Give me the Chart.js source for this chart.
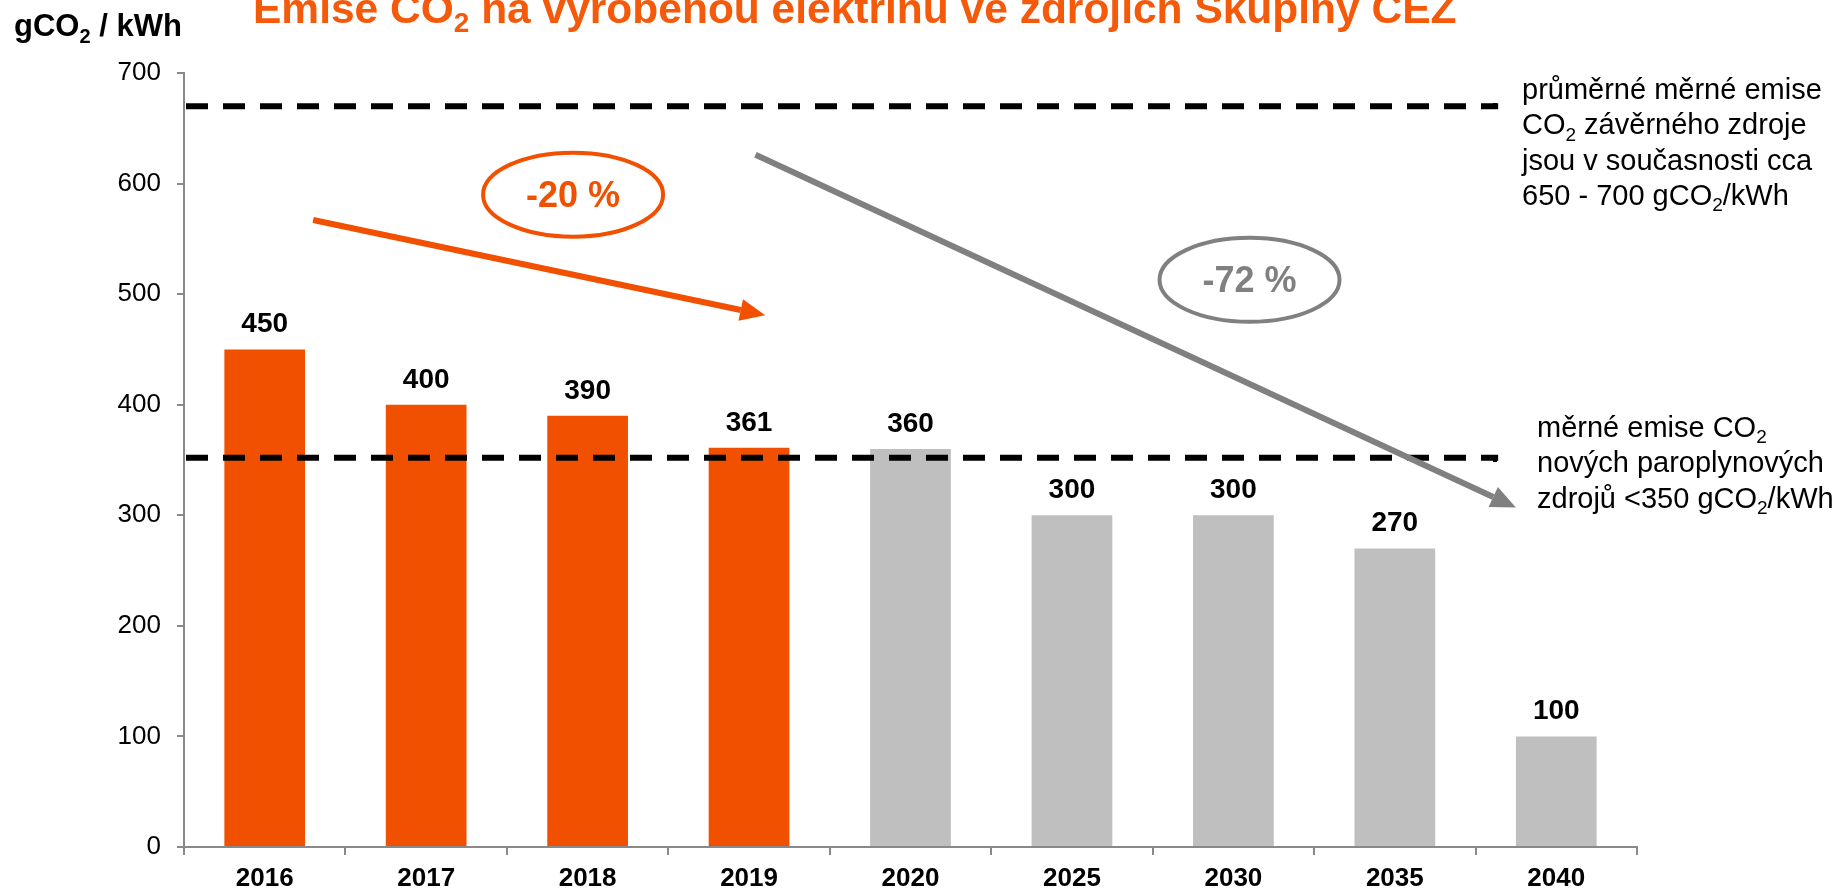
<!DOCTYPE html>
<html>
<head>
<meta charset="utf-8">
<script src="https://cdn.jsdelivr.net/npm/chart.js@4"></script>
<style>
  html, body { margin: 0; padding: 0; background: #fff; }
  canvas { display: block; }
</style>
</head>
<body>
<canvas id="chart" width="1840" height="891"></canvas>
<script>
const years = ['2016', '2017', '2018', '2019', '2020', '2025', '2030', '2035', '2040']
const emissions = [450, 400, 390, 361, 360, 300, 300, 270, 100]
const historicCount = 4   // first bars are real values (orange), rest is plan (grey)
const refLines = [670, 352]
const trendLabels = ['-20 %', '-72 %']

const FONT = 'Arial, "Liberation Sans", sans-serif'
const ORANGE = '#F05000'
const GREY = '#BFBFBF'

// text with ~2~ style subscripts
function richText(ctx, txt, x, y, size, bold) {
  const w = bold ? 'bold ' : ''
  let cx = x
  txt.split('~').forEach((part, i) => {
    if (!part) return
    if (i % 2) {
      ctx.font = w + Math.round(size * 0.65) + 'px ' + FONT
      ctx.fillText(part, cx, y + size * 0.22)
    } else {
      ctx.font = w + size + 'px ' + FONT
      ctx.fillText(part, cx, y)
    }
    cx += ctx.measureText(part).width
  })
}

function arrow(ctx, x1, y1, x2, y2, color) {
  const a = Math.atan2(y2 - y1, x2 - x1)
  const hl = 25, hw = 11
  ctx.strokeStyle = color
  ctx.fillStyle = color
  ctx.lineWidth = 6
  ctx.setLineDash([])
  ctx.beginPath()
  ctx.moveTo(x1, y1)
  ctx.lineTo(x2 - hl * Math.cos(a), y2 - hl * Math.sin(a))
  ctx.stroke()
  ctx.beginPath()
  ctx.moveTo(x2, y2)
  ctx.lineTo(x2 - hl * Math.cos(a) + hw * Math.sin(a), y2 - hl * Math.sin(a) - hw * Math.cos(a))
  ctx.lineTo(x2 - hl * Math.cos(a) - hw * Math.sin(a), y2 - hl * Math.sin(a) + hw * Math.cos(a))
  ctx.closePath()
  ctx.fill()
}

function bubble(ctx, cx, cy, text, color) {
  ctx.strokeStyle = color
  ctx.lineWidth = 4
  ctx.beginPath()
  ctx.ellipse(cx, cy, 90, 42, 0, 0, Math.PI * 2)
  ctx.stroke()
  ctx.fillStyle = color
  ctx.font = 'bold 36px ' + FONT
  ctx.textAlign = 'center'
  ctx.textBaseline = 'middle'
  ctx.fillText(text, cx, cy + 2)
  ctx.textAlign = 'left'
  ctx.textBaseline = 'alphabetic'
}

const extras = {
  id: 'extras',
  afterDatasetsDraw(chart) {
    const ctx = chart.ctx
    const x = chart.scales.x, y = chart.scales.y
    const area = chart.chartArea
    ctx.save()

    // value labels
    ctx.fillStyle = '#000'
    ctx.font = 'bold 28px ' + FONT
    ctx.textAlign = 'center'
    chart.getDatasetMeta(0).data.forEach((bar, i) => {
      ctx.fillText(emissions[i], bar.x, bar.y - 17)
    })
    ctx.textAlign = 'left'

    // dashed reference lines
    ctx.strokeStyle = '#000'
    ctx.lineWidth = 6
    ctx.setLineDash([22, 15])
    refLines.forEach(v => {
      const py = y.getPixelForValue(v)
      ctx.beginPath()
      ctx.moveTo(area.left + 2, py)
      ctx.lineTo(x.getPixelForValue(7.64), py)
      ctx.stroke()
    })
    ctx.setLineDash([])

    // trend arrows + bubbles
    arrow(ctx, x.getPixelForValue(0.3), y.getPixelForValue(567), x.getPixelForValue(3.1), y.getPixelForValue(481), ORANGE)
    arrow(ctx, x.getPixelForValue(3.04), y.getPixelForValue(626), x.getPixelForValue(7.75), y.getPixelForValue(307), '#808080')
    bubble(ctx, x.getPixelForValue(1.91), y.getPixelForValue(590), trendLabels[0], ORANGE)
    bubble(ctx, x.getPixelForValue(6.1), y.getPixelForValue(513), trendLabels[1], '#808080')

    // titles
    ctx.fillStyle = '#F45A0A'
    richText(ctx, 'Emise CO~2~ na vyrobenou elektřinu ve zdrojích Skupiny ČEZ', 253, 23, 42.5, true)
    ctx.fillStyle = '#000'
    richText(ctx, 'gCO~2~ / kWh', 14, 36, 31, true)

    // side notes
    const noteTop = ['průměrné měrné emise', 'CO~2~ závěrného zdroje', 'jsou v současnosti cca', '650 - 700 gCO~2~/kWh']
    const noteLow = ['měrné emise CO~2~', 'nových paroplynových', 'zdrojů <350 gCO~2~/kWh']
    noteTop.forEach((t, i) => richText(ctx, t, 1522, 99 + i * 35.3, 29, false))
    noteLow.forEach((t, i) => richText(ctx, t, 1537, 437 + i * 35.3, 29, false))
    ctx.fillRect(1493, 103, 4, 4)
    ctx.fillRect(1493, 458, 4, 4)

    ctx.restore()
  }
}

new Chart(document.getElementById('chart'), {
  type: 'bar',
  data: {
    labels: years,
    datasets: [{
      data: emissions,
      backgroundColor: emissions.map((v, i) => i < historicCount ? ORANGE : GREY),
      barPercentage: 0.5,
      categoryPercentage: 1
    }]
  },
  options: {
    responsive: false,
    devicePixelRatio: 1,
    animation: false,
    layout: { padding: { top: 73, right: 203, left: 0, bottom: 0 } },
    plugins: { legend: { display: false }, tooltip: { enabled: false } },
    scales: {
      x: {
        afterFit: s => { s.height = 44 },
        grid: { drawOnChartArea: false, tickLength: 8, color: '#898989', lineWidth: 2 },
        border: { color: '#898989', width: 2 },
        ticks: { color: '#000', padding: 8, font: { family: FONT, size: 26, weight: 'bold' } }
      },
      y: {
        min: 0,
        max: 700,
        afterFit: s => { s.width = 184 },
        grid: { drawOnChartArea: false, tickLength: 7, color: '#898989', lineWidth: 2 },
        border: { color: '#898989', width: 2 },
        ticks: { stepSize: 100, color: '#000', padding: 16, font: { family: FONT, size: 26 } }
      }
    }
  },
  plugins: [extras]
})
</script>
</body>
</html>
